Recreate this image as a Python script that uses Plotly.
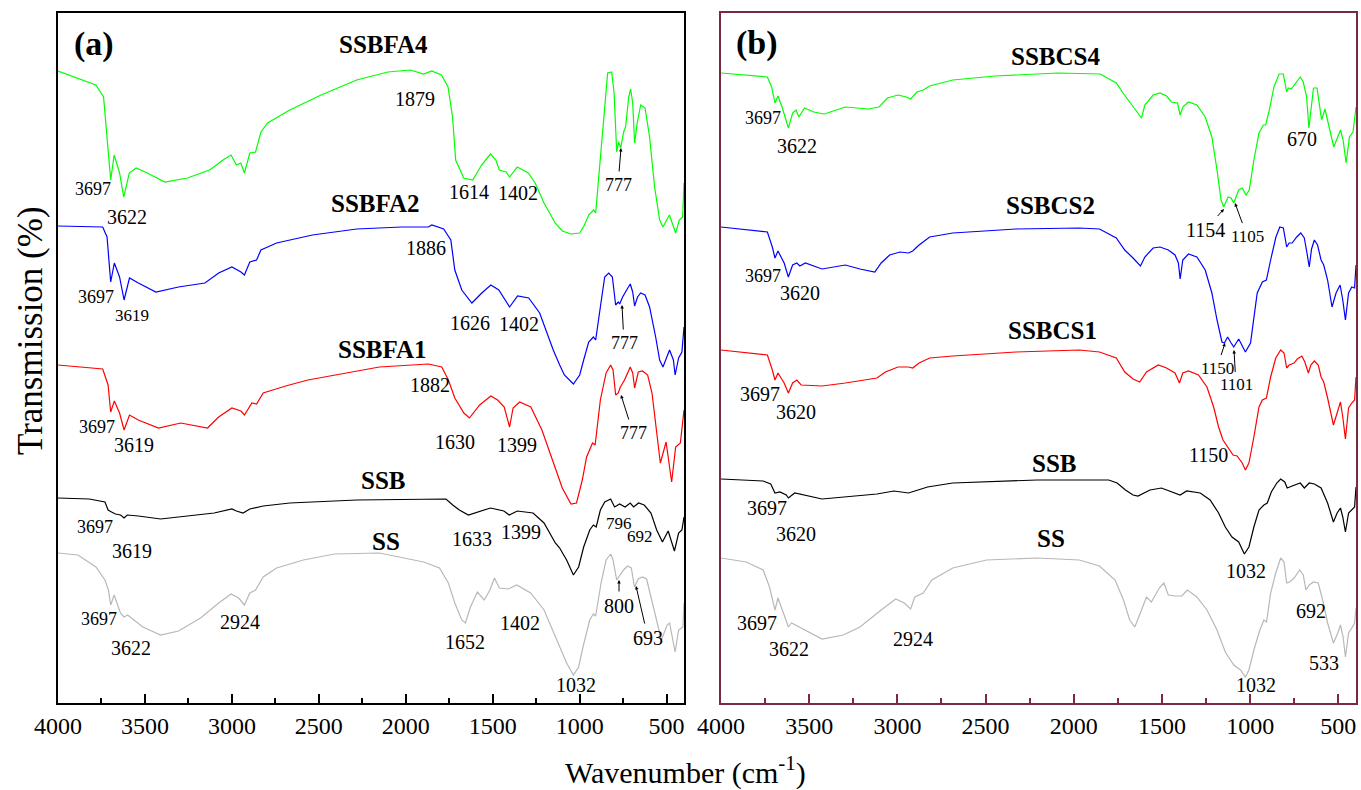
import plotly.graph_objects as go

W, H = 1361, 790
FONT = "Liberation Serif"

# ---------------- data: (wavenumber cm-1, vertical offset; larger = lower) ----------------
A_SSBFA4 = [(4000,71),(3782,85),(3738,97),(3712,150),(3697,180),(3677,155),(3646,173),(3622,197),(3590,173),
            (3551,168),(3487,173),(3385,182),(3256,178),(3128,170),(3051,160),(3005,155),(2974,165),(2949,163),
            (2928,173),(2897,153),(2864,152),(2833,132),(2795,123),(2667,110),(2487,95),(2282,80),(2103,72),
            (1974,70),(1897,74),(1851,71),(1795,75),(1757,87),(1731,117),(1713,160),(1667,178),(1615,180),
            (1564,165),(1513,154),(1482,160),(1462,170),(1423,172),(1403,177),(1359,167),(1295,173),(1256,183),
            (1205,203),(1141,223),(1100,231),(1050,234),(1000,233),(975,226),(948,215),(920,210),(908,213),
            (881,160),(856,103),(839,73),(816,72),(802,93),(787,152),(776,142),(764,148),(747,132),(736,127),
            (718,97),(707,89),(695,103),(684,143),(669,123),(649,105),(624,108),(598,137),(569,187),(540,220),
            (521,227),(484,215),(466,225),(448,233),(427,220),(408,217),(400,183)]
A_SSBFA2 = [(4000,226),(3743,227),(3718,237),(3705,265),(3697,282),(3676,263),(3646,277),(3620,300),(3589,278),
            (3538,283),(3437,292),(3307,287),(3155,283),(3076,273),(3000,267),(2948,272),(2928,275),(2897,262),
            (2858,260),(2833,250),(2743,243),(2537,235),(2282,229),(2024,227),(1870,227),(1850,225),(1782,229),
            (1741,240),(1718,270),(1678,290),(1620,303),(1563,293),(1511,285),(1465,290),(1434,298),(1403,307),
            (1357,296),(1293,298),(1230,313),(1152,350),(1115,365),(1088,375),(1036,384),(1000,375),(977,360),
            (948,342),(921,337),(908,340),(881,307),(856,277),(833,273),(812,277),(793,305),(778,302),(770,304),
            (753,297),(730,290),(709,284),(695,292),(684,306),(667,297),(649,293),(624,295),(598,307),(563,337),
            (540,360),(521,367),(483,350),(461,360),(451,375),(431,358),(412,352),(400,327)]
A_SSBFA1 = [(4000,365),(3743,369),(3712,385),(3697,412),(3676,401),(3646,413),(3620,430),(3589,415),(3538,420),
            (3422,428),(3294,423),(3140,428),(3076,417),(3000,408),(2948,411),(2928,415),(2885,403),(2858,404),
            (2820,393),(2691,386),(2563,380),(2152,367),(1870,364),(1793,367),(1755,380),(1718,398),(1666,413),
            (1634,418),(1575,405),(1511,396),(1472,400),(1434,407),(1403,427),(1383,408),(1345,402),(1281,407),
            (1217,430),(1152,462),(1100,488),(1050,504),(1018,503),(985,480),(960,457),(926,443),(911,445),
            (881,400),(848,373),(822,365),(808,370),(793,395),(778,393),(766,387),(742,380),(709,367),(695,373),
            (684,388),(663,372),(639,371),(609,375),(584,393),(560,427),(536,463),(503,442),(471,482),(448,447),
            (421,443),(400,410)]
A_SSB = [(4000,498),(3820,499),(3730,502),(3712,510),(3692,512),(3670,514),(3640,515),(3620,518),(3602,515),
         (3538,516),(3410,519),(3256,516),(3102,513),(3000,509),(2974,511),(2936,513),(2897,509),(2820,506),
         (2667,503),(2282,500),(1769,499),(1730,505),(1692,510),(1640,515),(1590,512),(1513,508),(1436,511),
         (1405,515),(1359,511),(1268,513),(1205,523),(1140,543),(1115,548),(1075,560),(1036,575),(1006,567),
         (977,547),(942,530),(921,525),(905,527),(881,510),(856,502),(822,499),(799,507),(770,504),(739,507),
         (709,503),(690,507),(661,503),(629,505),(590,513),(557,530),(524,542),(491,531),(455,551),(431,533),
         (412,530),(400,517)]
A_SS = [(4000,553),(3885,555),(3782,567),(3730,580),(3710,590),(3697,605),(3677,595),(3641,613),(3620,617),
        (3600,615),(3512,627),(3410,635),(3307,631),(3180,618),(3076,603),(3005,594),(2961,598),(2928,605),
        (2897,593),(2864,590),(2820,577),(2743,568),(2589,560),(2410,554),(2152,553),(1897,562),(1806,568),
        (1755,583),(1718,603),(1678,620),(1657,623),(1628,607),(1588,592),(1549,600),(1516,590),(1490,578),
        (1462,588),(1410,589),(1362,585),(1282,593),(1205,610),(1127,642),(1075,663),(1036,675),(1006,667),
        (981,647),(942,620),(921,614),(908,616),(877,583),(848,560),(822,554),(808,560),(787,580),(774,577),
        (748,570),(724,566),(703,568),(685,587),(663,579),(639,577),(615,579),(590,597),(560,620),(530,640),
        (497,625),(483,623),(451,652),(431,630),(406,627),(400,603)]

B_SSBCS4 = [(4000,73),(3737,77),(3713,87),(3694,103),(3677,96),(3654,107),(3618,128),(3594,113),(3575,110),
            (3558,117),(3527,108),(3474,112),(3415,114),(3295,107),(3164,109),(3104,107),(3056,98),(2997,95),
            (2949,97),(2925,99),(2889,92),(2853,90),(2817,86),(2686,80),(2447,76),(2089,73),(1850,74),(1759,83),
            (1721,93),(1664,107),(1630,115),(1616,118),(1597,105),(1550,95),(1511,93),(1474,96),(1446,102),
            (1412,103),(1397,115),(1382,107),(1350,102),(1302,105),(1255,117),(1217,137),(1188,170),(1165,200),
            (1150,207),(1125,197),(1108,198),(1093,203),(1065,190),(1045,188),(1023,195),(1005,190),(979,160),
            (950,133),(925,125),(912,125),(894,112),(865,87),(836,74),(812,74),(793,92),(784,88),(767,89),
            (741,83),(716,77),(699,82),(680,97),(667,128),(656,110),(641,88),(621,88),(608,107),(595,120),
            (576,109),(551,127),(526,147),(488,130),(473,140),(456,163),(437,137),(417,132),(400,107)]
B_SSBCS2 = [(4000,227),(3737,232),(3709,247),(3694,258),(3677,251),(3642,263),(3618,277),(3594,265),(3570,263),
            (3553,266),(3522,263),(3427,269),(3295,265),(3212,269),(3128,272),(3092,263),(3044,255),(2985,252),
            (2937,253),(2913,251),(2877,245),(2817,237),(2686,233),(2328,229),(1969,228),(1854,229),(1759,238),
            (1711,250),(1664,258),(1622,266),(1597,257),(1550,248),(1511,247),(1464,250),(1426,255),(1407,263),
            (1397,279),(1382,260),(1350,254),(1302,257),(1255,270),(1217,293),(1188,320),(1160,342),(1146,343),
            (1128,337),(1108,343),(1093,347),(1065,339),(1027,352),(998,343),(960,293),(931,282),(908,280),
            (884,260),(854,237),(832,227),(812,228),(793,247),(779,243),(762,243),(736,237),(713,233),(693,238),
            (678,253),(665,267),(652,249),(636,240),(618,245),(598,260),(583,265),(561,280),(536,307),(513,293),
            (490,285),(475,300),(460,320),(442,293),(424,287),(408,288),(400,265)]
B_SSBCS1 = [(4000,350),(3737,355),(3709,370),(3694,380),(3677,373),(3642,383),(3618,393),(3594,383),(3570,380),
            (3546,385),(3427,386),(3295,383),(3116,378),(3068,372),(2997,367),(2937,367),(2913,368),(2877,363),
            (2817,358),(2686,356),(2328,352),(1969,350),(1854,352),(1759,358),(1711,372),(1664,379),(1626,382),
            (1588,372),(1521,365),(1474,368),(1426,373),(1401,383),(1382,373),(1350,371),(1293,375),(1245,387),
            (1207,407),(1179,427),(1154,440),(1122,448),(1097,455),(1074,456),(1045,463),(1027,470),(1007,463),
            (979,437),(950,407),(931,400),(908,398),(884,377),(855,358),(827,350),(808,353),(793,368),(779,365),
            (751,363),(733,359),(707,356),(690,362),(670,373),(656,365),(636,361),(614,365),(598,377),(583,382),
            (561,398),(528,425),(507,413),(488,402),(475,417),(460,439),(442,408),(424,403),(408,400),(400,377)]
B_SSB = [(4000,479),(3761,481),(3718,484),(3694,493),(3666,492),(3630,495),(3618,498),(3582,493),(3427,499),
         (3307,497),(3116,494),(3020,491),(2973,492),(2937,493),(2901,491),(2829,487),(2686,483),(2208,480),
         (1802,480),(1754,483),(1707,490),(1664,495),(1636,496),(1568,490),(1503,488),(1435,492),(1397,495),
         (1360,491),(1283,493),(1227,500),(1179,513),(1141,527),(1103,537),(1065,542),(1033,554),(1007,547),
         (979,527),(950,510),(922,505),(903,503),(880,492),(849,483),(827,479),(804,482),(790,488),(762,486),
         (716,483),(693,488),(665,483),(636,484),(598,488),(561,503),(528,522),(507,513),(488,508),(475,517),
         (460,532),(442,513),(424,510),(408,507),(400,487)]
B_SS = [(4000,558),(3857,562),(3761,570),(3725,587),(3694,610),(3677,598),(3642,615),(3618,627),(3600,623),
        (3534,629),(3427,639),(3307,635),(3212,627),(3092,610),(3009,599),(2961,603),(2925,609),(2901,597),
        (2853,593),(2805,580),(2686,568),(2495,560),(2208,558),(1969,560),(1854,566),(1766,580),(1718,600),
        (1683,620),(1654,627),(1616,610),(1588,597),(1560,602),(1515,588),(1489,583),(1464,595),(1426,596),
        (1388,596),(1356,590),(1302,597),(1245,610),(1188,630),(1141,652),(1093,665),(1055,670),(1027,677),
        (1007,670),(979,650),(945,630),(922,620),(907,622),(884,593),(855,573),(827,558),(808,562),(793,583),
        (776,582),(751,578),(719,570),(699,575),(684,590),(665,585),(641,582),(614,583),(589,600),(561,623),
        (528,643),(503,633),(488,625),(473,637),(460,657),(442,633),(424,628),(408,623),(400,608)]

X_TICKS = [4000, 3500, 3000, 2500, 2000, 1500, 1000, 500]

GREEN, BLUE, RED, BLACK, GRAY = "#00ff00", "#0000ff", "#ff0000", "#000000", "#b8b8b8"
MAROON = "#7a2a40"

series_a = [(A_SSBFA4, GREEN), (A_SSBFA2, BLUE), (A_SSBFA1, RED), (A_SSB, BLACK), (A_SS, GRAY)]
series_b = [(B_SSBCS4, GREEN), (B_SSBCS2, BLUE), (B_SSBCS1, RED), (B_SSB, BLACK), (B_SS, GRAY)]

fig = go.Figure()
for data, col in series_a:
    fig.add_trace(go.Scatter(x=[p[0] for p in data], y=[p[1] for p in data], mode="lines",
                             line=dict(color=col, width=1.2), xaxis="x", yaxis="y", hoverinfo="skip"))
for data, col in series_b:
    fig.add_trace(go.Scatter(x=[p[0] for p in data], y=[p[1] for p in data], mode="lines",
                             line=dict(color=col, width=1.2), xaxis="x2", yaxis="y2", hoverinfo="skip"))

def xaxis_cfg(dom, col, anchor):
    return dict(domain=dom, range=[4000, 400], tickvals=X_TICKS, ticks="inside", ticklen=9, tickwidth=2,
                tickcolor=col, showline=True, linecolor=col, linewidth=2, mirror=True, showgrid=False,
                zeroline=False, tickfont=dict(family=FONT, size=24, color="black"), automargin=False,
                anchor=anchor,
                minor=dict(ticks="inside", ticklen=5, tickwidth=2, tickcolor=col, dtick=250, tick0=0,
                           showgrid=False))

def yaxis_cfg(dom, col, anchor):
    return dict(domain=dom, range=[703, 13], showticklabels=False, ticks="", showline=True, linecolor=col,
                linewidth=2, mirror=True, showgrid=False, zeroline=False, anchor=anchor, automargin=False)

ydom = [87 / H, 777 / H]
fig.update_layout(
    width=W, height=H, margin=dict(l=0, r=0, t=0, b=0, autoexpand=False),
    paper_bgcolor="white", plot_bgcolor="white", showlegend=False,
    xaxis=xaxis_cfg([58 / W, 684 / W], BLACK, "y"),
    yaxis=yaxis_cfg(ydom, BLACK, "x"),
    xaxis2=xaxis_cfg([721 / W, 1356 / W], MAROON, "y2"),
    yaxis2=yaxis_cfg(ydom, MAROON, "x2"),
)

ann = []
def label(text, px, py, size=20, bold=False, head=None):
    t = "<b>%s</b>" % text if bold else text
    a = dict(text=t, xref="paper", yref="paper", xanchor="center", yanchor="middle",
             font=dict(family=FONT, size=size, color="black"))
    if head is None:
        a.update(x=px / W, y=1 - py / H, showarrow=False)
    else:
        hx, hy = head
        a.update(x=hx / W, y=1 - hy / H, showarrow=True, ax=px - hx, ay=py - hy, arrowhead=2,
                 arrowsize=0.7, arrowwidth=1, arrowcolor="black", standoff=0, startstandoff=2)
    ann.append(a)

labels = [
    ("(a)", 94, 44, 34, True, None), ("SSBFA4", 383, 45, 25, True, None), ("1879", 415, 99, 20, False, None),
    ("3697", 93, 189, 18, False, None), ("3622", 127, 217, 20, False, None), ("1614", 469, 192, 20, False, None),
    ("1402", 518, 193, 20, False, None), ("777", 618, 185, 18, False, (621, 148)),
    ("SSBFA2", 375, 203, 25, True, None), ("1886", 426, 248, 20, False, None), ("3697", 96, 297, 18, False, None),
    ("3619", 132, 315, 17, False, None), ("1626", 470, 323, 20, False, None), ("1402", 519, 324, 20, False, None),
    ("777", 624, 343, 18, False, (622, 305)),
    ("SSBFA1", 382, 349, 25, True, None), ("1882", 430, 385, 20, False, None), ("3697", 97, 427, 18, False, None),
    ("3619", 134, 445, 20, False, None), ("1630", 455, 442, 20, False, None), ("1399", 517, 445, 20, False, None),
    ("777", 633, 433, 18, False, (621, 395)),
    ("SSB", 383, 480, 25, True, None), ("3697", 95, 527, 18, False, None), ("3619", 132, 551, 20, False, None),
    ("1633", 472, 539, 20, False, None), ("1399", 521, 532, 20, False, None), ("796", 619, 523, 17, False, None),
    ("692", 640, 536, 17, False, None),
    ("SS", 386, 541, 25, True, None), ("3697", 99, 619, 18, False, None), ("3622", 131, 648, 20, False, None),
    ("2924", 240, 622, 20, False, None), ("1652", 465, 642, 20, False, None), ("1402", 520, 623, 20, False, None),
    ("1032", 576, 685, 20, False, None), ("800", 619, 606, 20, False, (619, 580)),
    ("693", 648, 638, 20, False, (636, 586)),
    ("(b)", 757, 43, 34, True, None), ("SSBCS4", 1055, 56, 25, True, None), ("3697", 763, 118, 18, False, None),
    ("3622", 797, 146, 20, False, None), ("670", 1302, 139, 20, False, None),
    ("1154", 1205, 230, 20, False, (1224, 209)), ("1105", 1247, 236, 17, False, (1235, 203)),
    ("SSBCS2", 1050, 205, 25, True, None), ("3697", 763, 276, 18, False, None), ("3620", 800, 293, 20, False, None),
    ("1150", 1217, 368, 17, False, (1225, 343)), ("1101", 1236, 385, 17, False, (1234, 350)),
    ("SSBCS1", 1052, 330, 25, True, None), ("3697", 760, 394, 20, False, None), ("3620", 796, 412, 20, False, None),
    ("1150", 1208, 455, 20, False, None),
    ("SSB", 1054, 463, 25, True, None), ("3697", 767, 508, 20, False, None), ("3620", 796, 534, 20, False, None),
    ("1032", 1246, 571, 20, False, None),
    ("SS", 1051, 538, 25, True, None), ("3697", 757, 623, 20, False, None), ("3622", 789, 649, 20, False, None),
    ("2924", 913, 639, 20, False, None), ("692", 1311, 611, 20, False, None), ("533", 1324, 663, 20, False, None),
    ("1032", 1256, 685, 20, False, None),
]
for t, px, py, s, b, hd in labels:
    label(t, px, py, s, b, hd)

ann.append(dict(text="Transmission (%)", x=30 / W, y=1 - 331 / H, xref="paper", yref="paper",
                showarrow=False, textangle=-90, xanchor="center", yanchor="middle",
                font=dict(family=FONT, size=35, color="black")))
ann.append(dict(text="Wavenumber (cm<sup>-1</sup>)", x=686 / W, y=1 - 770 / H, xref="paper", yref="paper",
                showarrow=False, xanchor="center", yanchor="middle",
                font=dict(family=FONT, size=30, color="black")))
fig.update_layout(annotations=ann)

fig.write_html("out.html")
